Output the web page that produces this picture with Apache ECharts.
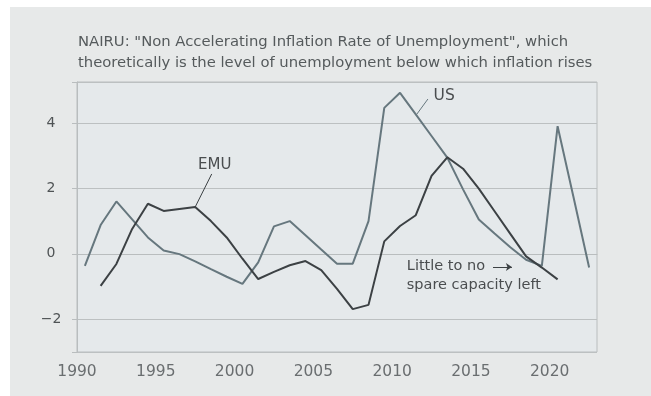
<!DOCTYPE html>
<html>
<head>
<meta charset="utf-8">
<script src="https://cdn.jsdelivr.net/npm/echarts@6/dist/echarts.min.js"></script>
<style>
  html, body { margin: 0; padding: 0; background: #fff; }
  #panel { position: absolute; left: 10px; top: 7px; right: 0; bottom: 0; background: #e7e9e9; }
  #chart { position: absolute; left: 0; top: 0; width: 651px; height: 396px; }
</style>
</head>
<body>
<div id="panel"></div>
<div id="chart"></div>
<script>
// Annual points sit mid-year on the chart (1990.5 = 1990 reading, etc.)
const years = [1990.5, 1991.5, 1992.5, 1993.5, 1994.5, 1995.5, 1996.5, 1997.5, 1998.5, 1999.5,
  2000.5, 2001.5, 2002.5, 2003.5, 2004.5, 2005.5, 2006.5, 2007.5, 2008.5, 2009.5,
  2010.5, 2011.5, 2012.5, 2013.5, 2014.5, 2015.5, 2016.5, 2017.5, 2018.5, 2019.5,
  2020.5, 2021.5, 2022.5];

const us = [-0.37, 0.88, 1.6, 1.05, 0.5, 0.1, -0.01, -0.23, -0.47, -0.7,
  -0.92, -0.26, 0.84, 1.0, 0.57, 0.13, -0.3, -0.3, 1.0, 4.46,
  4.92, 4.26, 3.6, 2.94, 1.97, 1.05, 0.62, 0.2, -0.18, -0.37,
  3.9, 1.75, -0.42];

const emu = [null, -0.98, -0.31, 0.76, 1.53, 1.31, 1.37, 1.43, 1.0, 0.5,
  -0.15, -0.77, -0.55, -0.35, -0.22, -0.5, -1.07, -1.69, -1.56, 0.38,
  0.85, 1.18, 2.38, 2.95, 2.6, 1.99, 1.3, 0.61, -0.08, -0.42,
  -0.78, null, null];

const yTickValues = [-3, -2, 0, 2, 4, 5.25];
const yLabelValues = [-2, 0, 2, 4];

const TITLE = 'NAIRU: "Non Accelerating Inflation Rate of Unemployment", which\n' +
  'theoretically is the level of unemployment below which inflation rises';

const FONT = '"DejaVu Sans", Roboto, sans-serif';
const US_COLOR = '#66777e';
const EMU_COLOR = '#3c4144';
const TEXT = '#4a4d4f';

const pair = (vals) => years.map((y, i) => [y, vals[i]]);

const chart = echarts.init(document.getElementById('chart'));
chart.setOption({
  animation: false,
  backgroundColor: 'transparent',
  textStyle: { fontFamily: FONT },
  title: {
    text: TITLE, left: 73, top: 27,
    textStyle: { fontSize: 14.8, fontWeight: 'normal', color: '#555a5c', lineHeight: 21, fontFamily: FONT },
  },
  grid: {
    left: 77, right: 54, top: 82, bottom: 44, show: true,
    backgroundColor: '#e5e9eb', borderColor: '#b9bdbe', borderWidth: 1,
  },
  xAxis: {
    type: 'value', min: 1990, max: 2023, interval: 5,
    axisLine: { show: true, lineStyle: { color: '#b9bdbe' } },
    axisTick: { show: false },
    splitLine: { show: false },
    axisLabel: { color: '#6a6e70', fontSize: 15.5, margin: 12, showMaxLabel: false, formatter: (v) => String(v) },
  },
  yAxis: {
    type: 'value', min: -3, max: 5.25,
    axisLine: { show: true, lineStyle: { color: '#b9bdbe' } },
    axisTick: { show: true, length: 5, customValues: yTickValues, lineStyle: { color: '#b9bdbe' } },
    splitLine: { show: true, lineStyle: { color: '#bcc0c1', width: 1 } },
    axisLabel: {
      customValues: yLabelValues, color: '#4f5355', fontSize: 14, margin: 26, align: 'center',
      formatter: (v) => (v < 0 ? '\u2212' + Math.abs(v) : String(v)),
    },
  },
  series: [
    {
      name: 'US', type: 'line', data: pair(us), showSymbol: false, symbol: 'none',
      lineStyle: { color: US_COLOR, width: 2 }, z: 3,
      markLine: {
        silent: true, symbol: 'none', label: { show: false },
        lineStyle: { color: US_COLOR, width: 1, type: 'solid' },
        data: [[{ coord: [2012.27, 4.73] }, { coord: [2011.57, 4.27] }]],
      },
      markPoint: {
        silent: true, symbolSize: 0,
        label: { show: true, position: 'inside', color: TEXT, fontSize: 15.5, formatter: (p) => p.name },
        data: [{ name: 'US', coord: [2013.3, 4.82] }],
      },
    },
    {
      name: 'EMU', type: 'line', data: pair(emu), showSymbol: false, symbol: 'none',
      lineStyle: { color: EMU_COLOR, width: 2 }, z: 4,
      markLine: {
        silent: true, symbol: 'none', label: { show: false },
        lineStyle: { color: EMU_COLOR, width: 1, type: 'solid' },
        data: [
          [{ coord: [1998.55, 2.44] }, { coord: [1997.5, 1.43] }],
          [{ coord: [2016.4, -0.4], symbol: 'none' }, { coord: [2017.6, -0.4], symbol: 'arrow', symbolSize: 6 }],
        ],
      },
      markPoint: {
        silent: true, symbolSize: 0,
        label: { show: true, position: 'inside', color: TEXT, fontSize: 15, formatter: (p) => p.name },
        data: [
          { name: 'EMU', coord: [1998.74, 2.71] },
          { name: 'Little to no', coord: [2010.93, -0.37], label: { align: 'left', fontSize: 14.5 } },
          { name: 'spare capacity left', coord: [2010.93, -0.95], label: { align: 'left', fontSize: 14.5 } },
        ],
      },
    },
  ],
});
</script>
</body>
</html>
